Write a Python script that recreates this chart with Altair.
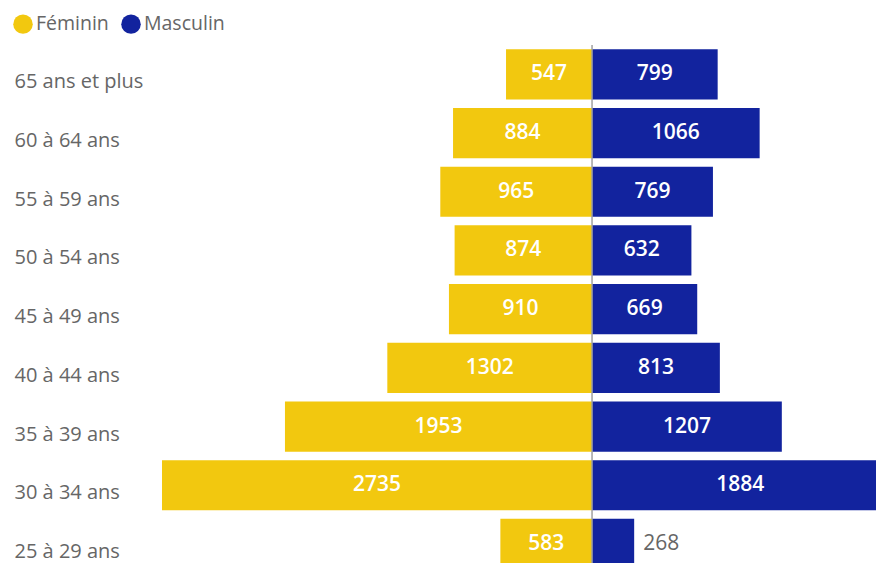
import altair as alt
import pandas as pd

ages = ["65 ans et plus", "60 à 64 ans", "55 à 59 ans", "50 à 54 ans", "45 à 49 ans",
        "40 à 44 ans", "35 à 39 ans", "30 à 34 ans", "25 à 29 ans"]
feminin = [547, 884, 965, 874, 910, 1302, 1953, 2735, 583]
masculin = [799, 1066, 769, 632, 669, 813, 1207, 1884, 268]
series = ["Féminin", "Masculin"]
colors = ["#F2C80F", "#12239E"]

rows = []
for a, f, m in zip(ages, feminin, masculin):
    rows.append({"age": a, "sexe": "Féminin", "valeur": f, "signe": -f, "milieu": -f / 2, "dedans": f >= 300})
    rows.append({"age": a, "sexe": "Masculin", "valeur": m, "signe": m, "milieu": m / 2, "dedans": m >= 300})
df = pd.DataFrame(rows)

FONT = "Segoe UI, Open Sans, sans-serif"
xscale = alt.Scale(domain=[-2735, 1806], nice=False, zero=False)
yenc = alt.Y("age:N", sort=ages,
             scale=alt.Scale(range=[0, 528.3], paddingInner=0.145, paddingOuter=0.0725),
             axis=alt.Axis(title=None, ticks=False, tickSize=0, domain=False, grid=False,
                           labelAlign="left", labelPadding=148, labelOffset=8, labelFont=FONT,
                           labelFontSize=20, labelColor="#666666"))

base = alt.Chart(df)

bars = base.mark_bar(clip=True).encode(
    x=alt.X("signe:Q", scale=xscale, stack=None, axis=None),
    y=yenc,
    color=alt.Color("sexe:N", scale=alt.Scale(domain=series, range=colors),
                    legend=alt.Legend(title=None, orient="none", legendX=-149, legendY=-31,
                                      direction="horizontal", symbolType="circle",
                                      symbolSize=380, symbolStrokeWidth=0,
                                      labelFont=FONT, labelFontSize=19.5, labelColor="#666666",
                                      labelOffset=3, columnPadding=12, padding=0)),
)

inside = base.transform_filter("datum.dedans").mark_text(
    color="white", font=FONT, fontSize=21, fontWeight=600, align="center", baseline="middle"
).encode(x=alt.X("milieu:Q", scale=xscale), y=yenc, text="valeur:Q")

outside = base.transform_filter("!datum.dedans").mark_text(
    color="#666666", font=FONT, fontSize=21, align="left", baseline="middle", dx=9
).encode(x=alt.X("signe:Q", scale=xscale), y=yenc, text="valeur:Q")

zero = alt.Chart(pd.DataFrame({"z": [0]})).mark_rule(color="#A0A0A0", strokeWidth=1.5).encode(
    x=alt.X("z:Q", scale=xscale))

chart = alt.layer(bars, zero, inside, outside).properties(
    width=714, height=518,
    autosize=alt.AutoSizeParams(type="none"),
    padding={"left": 154, "top": 37, "right": 0, "bottom": 0},
    background="white",
).configure_view(stroke=None)

chart.save("out.html", embed_options={"renderer": "svg", "actions": False})
